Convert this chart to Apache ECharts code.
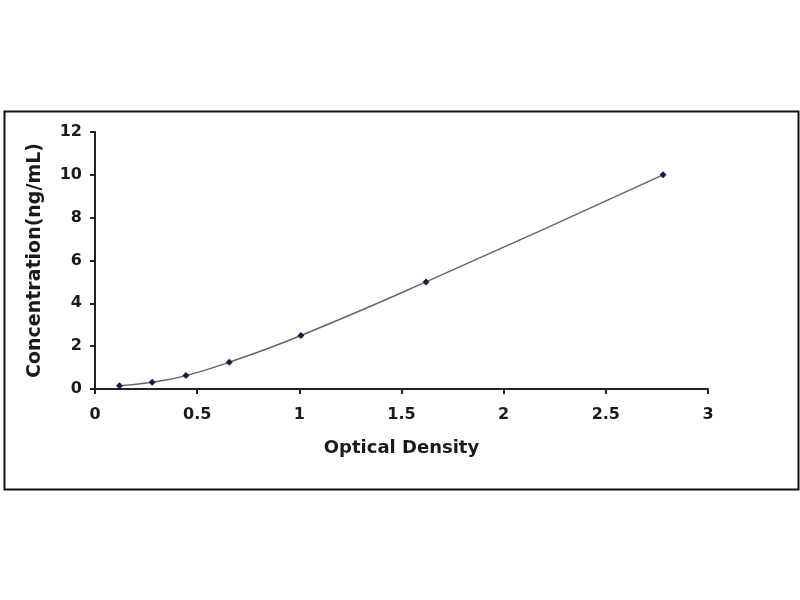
<!DOCTYPE html>
<html>
<head>
<meta charset="utf-8">
<style>
  html, body { margin: 0; padding: 0; background: #fff; }
  #chart { width: 800px; height: 600px; }
</style>
<script src="https://cdn.jsdelivr.net/npm/echarts@6/dist/echarts.min.js"></script>
</head>
<body>
<div id="chart"></div>
<script>
// standard curve points
var opticalDensity = [0.12, 0.28, 0.445, 0.657, 1.008, 1.62, 2.78];
var concentration = [0.156, 0.312, 0.625, 1.25, 2.5, 5, 10];

var points = [];
for (var i = 0; i < opticalDensity.length; i++) {
    points.push([opticalDensity[i], concentration[i]]);
}

var dom = document.getElementById("chart");
var myChart = echarts.init(dom);

var labelFont = {
    fontFamily: 'DejaVu Sans',
    fontWeight: 'bold',
    fontSize: 16,
    color: '#1a1a1a'
};

var option = {
    backgroundColor: '#fff',
    animation: false,
    grid: {
        left: 95,
        right: 92,
        top: 132,
        bottom: 211
    },
    graphic: [{
        type: 'rect',
        left: 2,
        top: 109,
        shape: { width: 794, height: 378 },
        style: { fill: 'none', stroke: '#111', lineWidth: 2 },
        silent: true
    }],
    xAxis: {
        type: 'value',
        min: 0,
        max: 3,
        interval: 0.5,
        name: 'Optical Density',
        nameLocation: 'middle',
        nameGap: 50,
        nameTextStyle: {
            fontFamily: 'DejaVu Sans',
            fontWeight: 'bold',
            fontSize: 18,
            color: '#1a1a1a'
        },
        axisLine: { lineStyle: { color: '#222', width: 2 } },
        axisTick: { show: true, length: 5, lineStyle: { color: '#222', width: 2 } },
        axisLabel: Object.assign({ margin: 18 }, labelFont),
        splitLine: { show: false }
    },
    yAxis: {
        type: 'value',
        min: 0,
        max: 12,
        interval: 2,
        name: 'Concentration(ng/mL)',
        nameLocation: 'middle',
        nameGap: 50,
        nameTextStyle: {
            fontFamily: 'DejaVu Sans',
            fontWeight: 'bold',
            fontSize: 19,
            color: '#1a1a1a'
        },
        axisLine: { show: true, lineStyle: { color: '#222', width: 2 } },
        axisTick: { show: true, length: 5, lineStyle: { color: '#222', width: 2 } },
        axisLabel: Object.assign({ margin: 13 }, labelFont),
        splitLine: { show: false }
    },
    series: [{
        name: 'Standard curve',
        type: 'line',
        data: points,
        smooth: true,
        symbol: 'diamond',
        symbolSize: 7,
        itemStyle: { color: '#1a1a4a' },
        lineStyle: { color: '#666', width: 1.5 }
    }]
};

myChart.setOption(option, true);

window.onresize = function () {
    myChart.resize();
};
</script>
</body>
</html>
